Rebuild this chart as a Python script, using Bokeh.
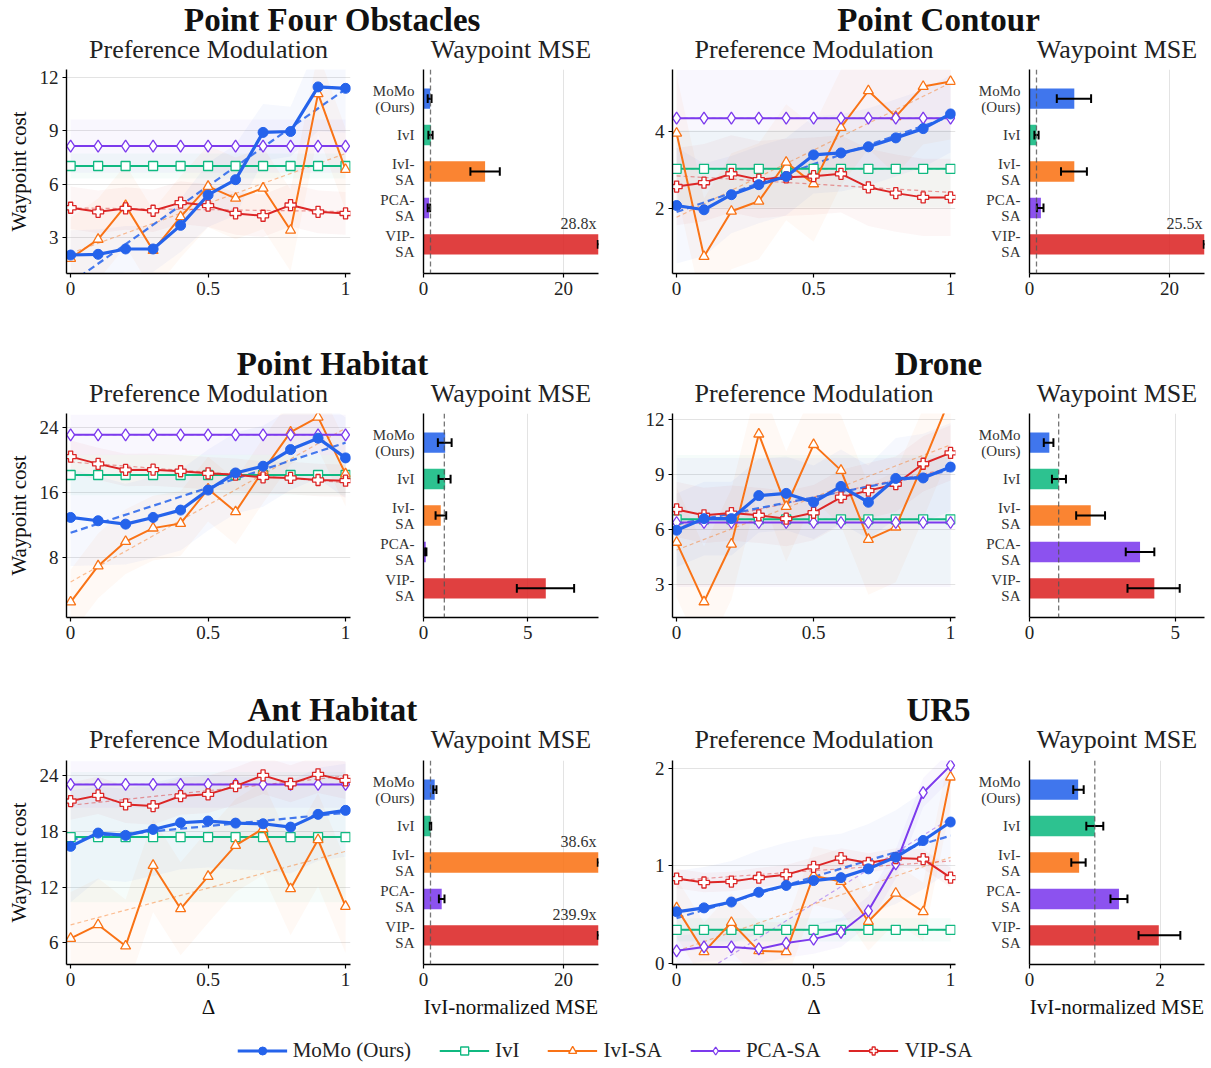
import numpy as np
from bokeh.plotting import figure
from bokeh.layouts import column, row
from bokeh.models import (Range1d, FixedTicker, Legend, LegendItem, Span,
                          CustomJSTickFormatter)
from bokeh.embed import file_html
from bokeh.resources import INLINE
from bokeh.core.properties import value

FONT = "Liberation Serif"

# ---------------- data ----------------
DELTA = [0.0, 0.1, 0.2, 0.3, 0.4, 0.5, 0.6, 0.7, 0.8, 0.9, 1.0]
METHODS = ["MoMo (Ours)", "IvI", "IvI-SA", "PCA-SA", "VIP-SA"]
BAR_LABELS = ["MoMo\n(Ours)", "IvI", "IvI-\nSA", "PCA-\nSA", "VIP-\nSA"]
COLORS = ["#2563eb", "#10b981", "#f97316", "#7c3aed", "#dc2626"]
MARKERS = ["circle", "square", "triangle", "diamond", "plus"]

# Point Four Obstacles
pfo_momo = [2.01, 2.05, 2.35, 2.35, 3.68, 5.39, 6.25, 8.91, 8.96, 11.47, 11.39]
pfo_ivi = [7.02, 7.02, 7.02, 7.02, 7.02, 7.02, 7.02, 7.02, 7.02, 7.02, 7.02]
pfo_ivisa = [1.82, 2.89, 4.79, 2.26, 4.16, 5.87, 5.20, 5.77, 3.40, 11.09, 6.82]
pfo_pcasa = [8.14, 8.14, 8.14, 8.14, 8.14, 8.14, 8.14, 8.14, 8.14, 8.14, 8.14]
pfo_vipsa = [4.67, 4.44, 4.63, 4.50, 4.96, 4.79, 4.35, 4.22, 4.82, 4.44, 4.35]
pfo_momo_sd = [1.4, 1.4, 1.3, 1.3, 1.5, 1.8, 2.0, 1.6, 1.4, 2.5, 2.5]
pfo_other_sd = [0.7, 2.3, 1.5, 1.2]
pfo_mse = [0.95, 1.05, 8.8, 0.8, 28.8]
pfo_mse_lo = [0.6, 0.7, 6.7, 0.6, 24.9]
pfo_mse_hi = [1.15, 1.3, 10.9, 0.95, 32.7]

# Point Contour
pc_momo = [2.08, 1.97, 2.36, 2.62, 2.83, 3.39, 3.44, 3.60, 3.83, 4.07, 4.45]
pc_ivi = [3.03, 3.03, 3.03, 3.03, 3.03, 3.03, 3.03, 3.03, 3.03, 3.03, 3.03]
pc_ivisa = [3.95, 0.76, 1.93, 2.19, 3.20, 2.64, 4.10, 5.05, 4.38, 5.16, 5.29]
pc_pcasa = [4.34, 4.34, 4.34, 4.34, 4.34, 4.34, 4.34, 4.34, 4.34, 4.34, 4.34]
pc_vipsa = [2.57, 2.67, 2.90, 2.75, 2.81, 2.84, 2.90, 2.55, 2.40, 2.29, 2.29]
pc_momo_sd = [1.5, 1.2, 1.0, 1.0, 1.0, 1.0, 1.0, 1.0, 1.0, 1.0, 1.0]
pc_other_sd = [1.0, 1.5, 1.25, 1.0]
pc_mse = [6.4, 1.0, 6.4, 1.63, 25.5]
pc_mse_lo = [3.9, 0.7, 4.5, 1.05, 24.9]
pc_mse_hi = [8.8, 1.3, 8.2, 2.0, 26.1]

# Point Habitat
ph_momo = [12.92, 12.51, 12.09, 12.92, 13.83, 16.31, 18.42, 19.25, 21.31, 22.72, 20.28]
ph_ivi = [18.17, 18.17, 18.17, 18.17, 18.17, 18.17, 18.17, 18.17, 18.17, 18.17, 18.17]
ph_ivisa = [2.46, 6.93, 9.94, 11.60, 12.18, 16.43, 13.62, 18.71, 23.46, 25.32, 18.30]
ph_pcasa = [23.13, 23.13, 23.13, 23.13, 23.13, 23.13, 23.13, 23.13, 23.13, 23.13, 23.13]
ph_vipsa = [20.44, 19.54, 18.79, 18.83, 18.63, 18.38, 18.21, 17.88, 17.80, 17.55, 17.47]
ph_momo_sd = [6.0, 5.5, 5.0, 5.0, 5.0, 5.0, 5.0, 5.0, 5.0, 5.0, 5.0]
ph_other_sd = [2.5, 4.0, 2.5, 2.0]
ph_mse = [1.04, 1.04, 0.83, 0.11, 5.87]
ph_mse_lo = [0.69, 0.72, 0.58, 0.08, 4.48]
ph_mse_hi = [1.35, 1.30, 1.09, 0.14, 7.23]

# Drone
dr_momo = [5.96, 6.59, 6.59, 7.84, 7.96, 7.48, 8.34, 7.48, 8.77, 8.80, 9.39]
dr_ivi = [6.55, 6.55, 6.55, 6.55, 6.55, 6.55, 6.55, 6.55, 6.55, 6.55, 6.55]
dr_ivisa = [5.30, 2.07, 5.20, 11.18, 7.25, 10.61, 9.21, 5.46, 6.13, 9.57, 13.2]
dr_pcasa = [6.38, 6.38, 6.38, 6.38, 6.38, 6.38, 6.38, 6.38, 6.38, 6.38, 6.38]
dr_vipsa = [7.09, 6.77, 6.89, 6.77, 6.59, 6.91, 7.75, 8.11, 8.46, 9.57, 10.16]
dr_momo_sd = [2.0, 2.0, 2.0, 2.0, 2.0, 2.0, 2.0, 2.0, 2.2, 2.4, 2.4]
dr_other_sd = [3.5, 3.0, 3.5, 1.5]
dr_mse = [0.68, 1.0, 2.1, 3.79, 4.28]
dr_mse_lo = [0.49, 0.77, 1.6, 3.3, 3.36]
dr_mse_hi = [0.82, 1.25, 2.59, 4.28, 5.15]

# Ant Habitat
ah_momo = [16.37, 17.80, 17.55, 18.19, 18.91, 19.09, 18.87, 18.80, 18.44, 19.81, 20.24]
ah_ivi = [17.37, 17.37, 17.37, 17.37, 17.37, 17.37, 17.37, 17.37, 17.37, 17.37, 17.37]
ah_ivisa = [6.47, 7.94, 5.65, 14.32, 9.66, 13.14, 16.47, 18.27, 11.81, 17.08, 9.91]
ah_pcasa = [23.03, 23.03, 23.03, 23.03, 23.03, 23.03, 23.03, 23.03, 23.03, 23.03, 23.03]
ah_vipsa = [21.24, 21.85, 20.88, 20.70, 21.78, 21.96, 22.85, 24.00, 23.10, 24.11, 23.46]
ah_momo_sd = [6.0, 5.0, 5.0, 5.0, 5.0, 5.0, 5.0, 5.0, 5.0, 5.0, 5.0]
ah_other_sd = [7.0, 5.0, 2.5, 2.0]
ah_mse = [1.6, 1.0, 38.6, 2.6, 239.9]
ah_mse_lo = [1.4, 0.9, 24.9, 2.2, 24.9]
ah_mse_hi = [1.85, 1.1, 52.0, 3.0, 450.0]

# UR5
ur_momo = [0.53, 0.57, 0.63, 0.73, 0.80, 0.85, 0.88, 0.97, 1.09, 1.26, 1.45]
ur_ivi = [0.345, 0.345, 0.345, 0.345, 0.345, 0.345, 0.345, 0.345, 0.345, 0.345, 0.345]
ur_ivisa = [0.57, 0.12, 0.42, 0.13, 0.12, 0.90, 0.84, 0.43, 0.72, 0.53, 1.91]
ur_pcasa = [0.13, 0.17, 0.17, 0.15, 0.21, 0.25, 0.32, 0.54, 1.02, 1.75, 2.03]
ur_vipsa = [0.87, 0.83, 0.84, 0.88, 0.91, 0.99, 1.08, 1.03, 1.08, 1.07, 0.88]
ur_momo_sd = [0.42, 0.42, 0.42, 0.43, 0.44, 0.45, 0.45, 0.46, 0.48, 0.5, 0.5]
ur_other_sd = [0.12, 0.3, 0.15, 0.1]
ur_mse = [0.745, 1.0, 0.76, 1.37, 1.98]
ur_mse_lo = [0.67, 0.87, 0.64, 1.24, 1.67]
ur_mse_hi = [0.83, 1.13, 0.86, 1.5, 2.31]

# ---------------- layout constants ----------------
FH = 204
X_LO, X_HI = -0.015, 1.018
LEFT_PAIR = dict(lw=284, lbl=66, lbr=12, bw=175, bbl=61, bbr=8)
RIGHT_PAIR = dict(lw=283, lbl=66, lbr=7, bw=175, bbl=67, bbr=5)
BAND_ALPHA = 0.045
PLOT_TOP = 5
ROW_BOTTOM = [71, 73, 70]
TITLE_H = [64, 64, 65]
BIG_MID = 19
SUB_MID = 49


def style_axes(p, size="19px"):
    for ax in p.axis:
        ax.axis_line_color = "black"
        ax.axis_line_width = 1.4
        ax.major_tick_line_color = "black"
        ax.major_tick_line_width = 1.2
        ax.major_tick_out = 4
        ax.major_tick_in = 0
        ax.minor_tick_line_color = None
        ax.major_label_text_font = FONT
        ax.major_label_text_font_size = size
        ax.major_label_text_color = "#222222"
        ax.major_label_standoff = 4
        ax.axis_label_text_font = FONT
        ax.axis_label_text_font_style = "normal"
        ax.axis_label_text_font_size = "21px"
        ax.axis_label_text_color = "#111111"
        ax.axis_label_standoff = 6


def base_fig(fw, xr, yr, bl, br, bb):
    p = figure(frame_width=fw, frame_height=FH, x_range=xr, y_range=yr,
               output_backend="svg", toolbar_location=None, title=None,
               min_border_left=bl, min_border_right=br,
               min_border_top=PLOT_TOP, min_border_bottom=bb)
    p.outline_line_color = None
    p.background_fill_color = "white"
    p.border_fill_color = "white"
    return p


def line_panel(series, momo_sd, other_sd, yr, yticks, ylabel, xlabel,
               fw, bl, br, bb):
    p = base_fig(fw, Range1d(X_LO, X_HI), Range1d(*yr), bl, br, bb)
    p.xgrid.visible = False
    p.ygrid.ticker = FixedTicker(ticks=yticks)
    p.ygrid.grid_line_color = "#d0d0d0"
    p.ygrid.grid_line_alpha = 0.6
    p.xaxis.ticker = FixedTicker(ticks=[0, 0.5, 1])
    p.xaxis.formatter = CustomJSTickFormatter(code="return tick.toString();")
    p.yaxis.ticker = FixedTicker(ticks=yticks)
    style_axes(p)
    if ylabel:
        p.yaxis.axis_label = ylabel
    if xlabel:
        p.xaxis.axis_label = xlabel

    x = np.array(DELTA)
    sds = [np.array(momo_sd)] + [np.full(len(DELTA), s) for s in other_sd]
    for k in range(5):
        y = np.array(series[k])
        p.varea(x=x, y1=y - sds[k], y2=y + sds[k], fill_color=COLORS[k],
                fill_alpha=BAND_ALPHA)
    for k in [1, 2, 3, 4, 0]:
        y = np.array(series[k])
        a, b = np.polyfit(x, y, 1)
        xx = np.array([0.0, 1.0])
        if k == 0:
            p.line(xx, a * xx + b, line_color=COLORS[k], line_width=2.2,
                   line_dash="7 4", line_alpha=0.85)
        else:
            p.line(xx, a * xx + b, line_color=COLORS[k], line_width=1.2,
                   line_dash="4 3", line_alpha=0.45)
    for k in [1, 2, 3, 4, 0]:
        y = series[k]
        if k == 0:
            p.line(DELTA, y, line_color=COLORS[k], line_width=3.2)
            p.scatter(DELTA, y, marker="circle", size=10,
                      fill_color=COLORS[k], line_color=COLORS[k])
        else:
            p.line(DELTA, y, line_color=COLORS[k], line_width=2)
            size = {1: 9, 2: 10, 3: 12, 4: 11}[k]
            p.scatter(DELTA, y, marker=MARKERS[k], size=size,
                      fill_color="white", line_color=COLORS[k],
                      line_width=1.3)
    return p


def bar_panel(vals, lo, hi, xmax, xticks, xlabel, fw, bl, br, bb):
    p = base_fig(fw, Range1d(0, xmax), Range1d(4.8, -0.8), bl, br, bb)
    p.ygrid.visible = False
    p.xgrid.ticker = FixedTicker(ticks=xticks)
    p.xgrid.grid_line_color = "#d0d0d0"
    p.xgrid.grid_line_alpha = 0.6
    p.xaxis.ticker = FixedTicker(ticks=xticks)
    p.yaxis.ticker = FixedTicker(ticks=[0, 1, 2, 3, 4])
    p.yaxis.formatter = CustomJSTickFormatter(
        args=dict(labels=BAR_LABELS), code="return labels[Math.round(tick)];")
    style_axes(p)
    p.yaxis.major_label_text_font_size = "15px"
    p.yaxis.major_label_text_color = "#333333"
    p.yaxis.major_label_text_line_height = 1.0
    p.yaxis.major_tick_line_color = None
    p.yaxis.major_label_standoff = 5
    if xlabel:
        p.xaxis.axis_label = xlabel
    ys = list(range(5))
    p.hbar(y=ys, left=0, right=vals, height=0.56, fill_color=COLORS,
           fill_alpha=0.88, line_color=None)
    p.add_layout(Span(location=1, dimension="height", line_color="#555555",
                      line_dash="5 3", line_width=1.3, line_alpha=0.8))
    y_arr = np.array(ys, dtype=float)
    p.segment(x0=lo, y0=y_arr, x1=hi, y1=y_arr, line_color="black",
              line_width=2)
    p.segment(x0=lo, y0=y_arr - 0.12, x1=lo, y1=y_arr + 0.12,
              line_color="black", line_width=2)
    p.segment(x0=hi, y0=y_arr - 0.12, x1=hi, y1=y_arr + 0.12,
              line_color="black", line_width=2)
    over = [i for i, v in enumerate(vals) if v > xmax]
    if over:
        p.text(x=[xmax] * len(over), y=[i - 0.33 for i in over],
               text=[f"{vals[i]:.1f}x" for i in over], text_align="right",
               text_baseline="bottom", x_offset=-2,
               text_font=value(FONT), text_font_size="16px",
               text_color="#333333")
    return p


def pair_width(g):
    return g["lbl"] + g["lw"] + g["lbr"] + g["bbl"] + g["bw"] + g["bbr"]


TOTAL_W = pair_width(LEFT_PAIR) + pair_width(RIGHT_PAIR)


def frame_spans(g, x0):
    ls = x0 + g["lbl"]
    le = ls + g["lw"]
    bs = le + g["lbr"] + g["bbl"]
    be = bs + g["bw"]
    return ls, le, bs, be


def title_fig(h, names):
    p = figure(width=TOTAL_W, height=h, x_range=Range1d(0, TOTAL_W),
               y_range=Range1d(h, 0), x_axis_type=None, y_axis_type=None,
               output_backend="svg", toolbar_location=None, title=None,
               min_border=0)
    p.outline_line_color = None
    p.grid.visible = False
    big_x, sub_x, sub_t = [], [], []
    for g, x0 in [(LEFT_PAIR, 0), (RIGHT_PAIR, pair_width(LEFT_PAIR))]:
        ls, le, bs, be = frame_spans(g, x0)
        big_x.append((ls + be) / 2)
        sub_x += [(ls + le) / 2, (bs + be) / 2]
        sub_t += ["Preference Modulation", "Waypoint MSE"]
    p.text(x=big_x, y=[BIG_MID] * 2, text=names, text_align="center",
           text_baseline="middle", text_font=value(FONT),
           text_font_style="bold", text_font_size="33px",
           text_color="#111111")
    p.text(x=sub_x, y=[SUB_MID] * 4, text=sub_t, text_align="center",
           text_baseline="middle", text_font=value(FONT),
           text_font_size="26px", text_color="#222222")
    return p


panels = [
    ("Point Four Obstacles", [pfo_momo, pfo_ivi, pfo_ivisa, pfo_pcasa, pfo_vipsa],
     pfo_momo_sd, pfo_other_sd, (0.97, 12.45), [3, 6, 9, 12],
     pfo_mse, pfo_mse_lo, pfo_mse_hi, 25, [0, 20]),
    ("Point Contour", [pc_momo, pc_ivi, pc_ivisa, pc_pcasa, pc_vipsa],
     pc_momo_sd, pc_other_sd, (0.32, 5.6), [2, 4],
     pc_mse, pc_mse_lo, pc_mse_hi, 25, [0, 20]),
    ("Point Habitat", [ph_momo, ph_ivi, ph_ivisa, ph_pcasa, ph_vipsa],
     ph_momo_sd, ph_other_sd, (0.55, 25.77), [8, 16, 24],
     ph_mse, ph_mse_lo, ph_mse_hi, 8.4, [0, 5]),
    ("Drone", [dr_momo, dr_ivi, dr_ivisa, dr_pcasa, dr_vipsa],
     dr_momo_sd, dr_other_sd, (1.22, 12.3), [3, 6, 9, 12],
     dr_mse, dr_mse_lo, dr_mse_hi, 6.0, [0, 5]),
    ("Ant Habitat", [ah_momo, ah_ivi, ah_ivisa, ah_pcasa, ah_vipsa],
     ah_momo_sd, ah_other_sd, (3.67, 25.6), [6, 12, 18, 24],
     ah_mse, ah_mse_lo, ah_mse_hi, 25, [0, 20]),
    ("UR5", [ur_momo, ur_ivi, ur_ivisa, ur_pcasa, ur_vipsa],
     ur_momo_sd, ur_other_sd, (-0.01, 2.08), [0, 1, 2],
     ur_mse, ur_mse_lo, ur_mse_hi, 2.68, [0, 2]),
]

children = []
for r in range(3):
    figs = []
    for c in range(2):
        (name, series, msd, osd, yr, yt, mse, lo, hi, xmax, xt) = panels[2 * r + c]
        g = LEFT_PAIR if c == 0 else RIGHT_PAIR
        last = r == 2
        lp = line_panel(series, msd, osd, yr, yt,
                        "Waypoint cost" if c == 0 else None,
                        "Δ" if last else None,
                        g["lw"], g["lbl"], g["lbr"], ROW_BOTTOM[r])
        bp = bar_panel(mse, lo, hi, xmax, xt,
                       "IvI-normalized MSE" if last else None,
                       g["bw"], g["bbl"], g["bbr"], ROW_BOTTOM[r])
        figs += [lp, bp]
    children.append(title_fig(TITLE_H[r], [panels[2 * r][0], panels[2 * r + 1][0]]))
    children.append(row(*figs))

# legend figure
lg = figure(width=TOTAL_W, height=32, x_range=Range1d(0, 1), y_range=Range1d(0, 1),
            x_axis_type=None, y_axis_type=None, output_backend="svg",
            toolbar_location=None, title=None, min_border=0)
lg.outline_line_color = None
lg.grid.visible = False
items = []
for k in range(5):
    if k == 0:
        l = lg.line([5, 6], [5, 6], line_color=COLORS[k], line_width=3.2)
        s = lg.scatter([5], [5], marker="circle", size=10, fill_color=COLORS[k],
                       line_color=COLORS[k])
    else:
        l = lg.line([5, 6], [5, 6], line_color=COLORS[k], line_width=2)
        size = {1: 9, 2: 10, 3: 12, 4: 11}[k]
        s = lg.scatter([5], [5], marker=MARKERS[k], size=size, fill_color="white",
                       line_color=COLORS[k], line_width=1.3)
    items.append(LegendItem(label=METHODS[k], renderers=[l, s]))
legend = Legend(items=items, orientation="horizontal", location="center",
                label_text_font=FONT, label_text_font_size="21px",
                label_text_color="#222222", glyph_width=50, glyph_height=20,
                label_standoff=6, spacing=28, padding=0, margin=0,
                border_line_color=None, background_fill_alpha=0)
lg.add_layout(legend, "center")
children.append(lg)

layout = column(*children)
open("out.html", "w").write(file_html(layout, INLINE))
